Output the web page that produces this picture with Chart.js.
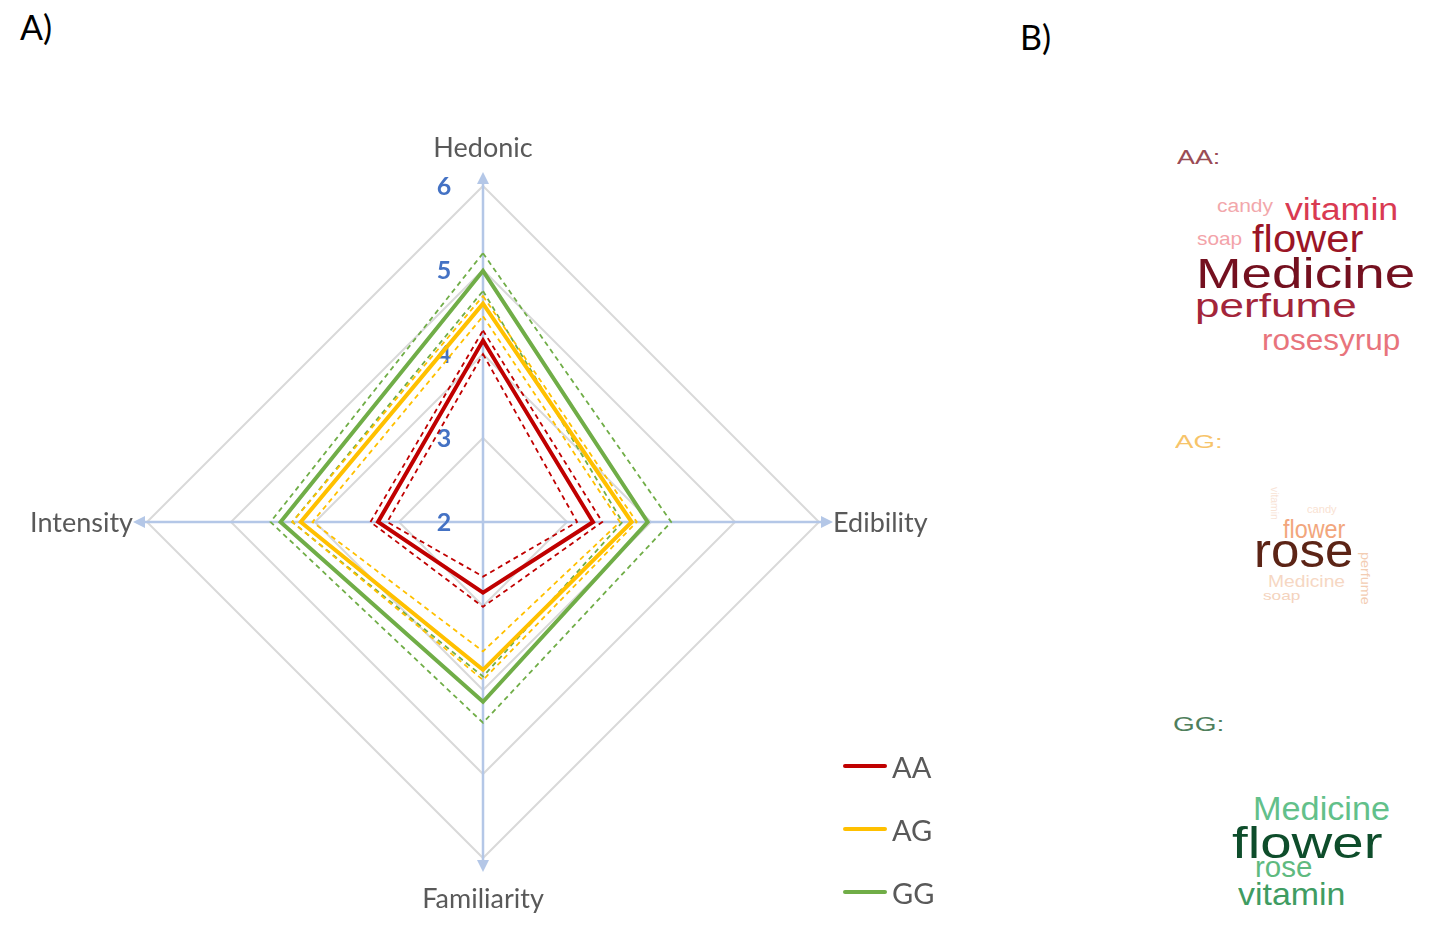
<!DOCTYPE html>
<html>
<head>
<meta charset="utf-8">
<script src="https://cdn.jsdelivr.net/npm/chart.js@4.4.1/dist/chart.umd.min.js"></script>
<style>
  html, body { margin: 0; padding: 0; background: #fff; }
  body { width: 1433px; height: 933px; position: relative; overflow: hidden; }
  #chartBox { position: absolute; left: 0; top: 110px; width: 966px; height: 822px; }
  .txt { position: absolute; white-space: nowrap; line-height: 1; transform-origin: 0 0; }
  .legend-row { position: absolute; left: 843px; height: 40px; display: flex; align-items: center; }
  .legend-row .swatch { width: 44px; height: 4px; border-radius: 2px; }
  .legend-row .name { font-family: Lato, sans-serif; font-size: 29px; color: #595959; margin-left: 5px; }
</style>
</head>
<body>
<div id="chartBox"><canvas id="radarChart"></canvas></div>
<div id="legend"></div>
<div id="texts"></div>

<script>
/* Radar data: mean score per axis, plus upper / lower bounds (dashed) */
const axisLabels = ['Hedonic', 'Edibility', 'Familiarity', 'Intensity'];
const tickValues = [2, 3, 4, 5, 6];
const groups = ['AA', 'AG', 'GG'];

const aaMean  = [4.16, 3.31, 2.84, 3.25];
const aaUpper = [4.28, 3.42, 3.01, 3.34];
const aaLower = [4.00, 3.12, 2.65, 3.14];

const agMean  = [4.60, 3.77, 3.76, 4.17];
const agUpper = [4.69, 3.83, 3.88, 4.27];
const agLower = [4.45, 3.63, 3.54, 4.03];

const ggMean  = [4.99, 3.96, 4.14, 4.41];
const ggUpper = [5.20, 4.24, 4.39, 4.53];
const ggLower = [4.75, 3.66, 3.84, 4.27];

/* Word clouds (panel B) */
const aaWords = ['candy', 'vitamin', 'soap', 'flower', 'Medicine', 'perfume', 'rosesyrup'];
const agWords = ['flower', 'rose', 'Medicine', 'soap', 'candy', 'perfume', 'vitamin'];
const ggWords = ['Medicine', 'flower', 'rose', 'vitamin'];

const groupColors = ['#c00000', '#ffc000', '#70ad47'];
const axisColor = '#b4c7e7';

const solidLine = function(label, data, color) {
    return { label: label, data: data, borderColor: color, borderWidth: 4, fill: false, pointRadius: 0 };
}
const dashedLine = function(label, data, color) {
    return { label: label, data: data, borderColor: color, borderWidth: 1.8, borderDash: [5, 4], fill: false, pointRadius: 0 };
}

const datasets = [
    solidLine('AA', aaMean, groupColors[0]),
    solidLine('AG', agMean, groupColors[1]),
    solidLine('GG', ggMean, groupColors[2]),
    dashedLine('AA upper', aaUpper, groupColors[0]),
    dashedLine('AA lower', aaLower, groupColors[0]),
    dashedLine('AG upper', agUpper, groupColors[1]),
    dashedLine('AG lower', agLower, groupColors[1]),
    dashedLine('GG upper', ggUpper, groupColors[2]),
    dashedLine('GG lower', ggLower, groupColors[2])
];

// where the axis names sit relative to the outer ring
const labelOffsets = [39, 14, 40, 14];
const labelAligns = ['center', 'left', 'center', 'right'];

const radarDecor = {
    id: 'radarDecor',
    beforeDatasetsDraw(chart) {
        const r = chart.scales.r;
        const ctx = chart.ctx;
        ctx.save();
        // axis lines with arrow heads
        ctx.strokeStyle = axisColor;
        ctx.fillStyle = axisColor;
        ctx.lineWidth = 2.5;
        axisLabels.forEach((_, i) => {
            const tip = r.getPointPosition(i, r.drawingArea + 14);
            const end = r.getPointPosition(i, r.drawingArea + 4);
            ctx.beginPath();
            ctx.moveTo(r.xCenter, r.yCenter);
            ctx.lineTo(end.x, end.y);
            ctx.stroke();
            const a = tip.angle, len = 12, half = 6;
            const bx = tip.x - Math.cos(a) * len, by = tip.y - Math.sin(a) * len;
            ctx.beginPath();
            ctx.moveTo(tip.x, tip.y);
            ctx.lineTo(bx - Math.sin(a) * half, by + Math.cos(a) * half);
            ctx.lineTo(bx + Math.sin(a) * half, by - Math.cos(a) * half);
            ctx.closePath();
            ctx.fill();
        });
        // tick numbers to the left of the Hedonic axis
        ctx.fillStyle = '#4472c4';
        ctx.font = 'bold 25px Lato';
        ctx.textAlign = 'center';
        ctx.textBaseline = 'middle';
        tickValues.forEach(v => {
            const p = r.getPointPosition(0, r.getDistanceFromCenterForValue(v));
            ctx.fillText(String(v), p.x - 39, p.y + 1);
        });
        ctx.restore();
    },
    afterDraw(chart) {
        const r = chart.scales.r;
        const ctx = chart.ctx;
        ctx.save();
        ctx.fillStyle = '#595959';
        ctx.font = '27px Lato';
        ctx.textBaseline = 'middle';
        axisLabels.forEach((label, i) => {
            const p = r.getPointPosition(i, r.drawingArea + labelOffsets[i]);
            ctx.textAlign = labelAligns[i];
            ctx.fillText(label, p.x, p.y + 1);
        });
        ctx.restore();
    }
};

new Chart(document.getElementById('radarChart'), {
    type: 'radar',
    data: { labels: axisLabels, datasets: datasets },
    options: {
        responsive: true,
        maintainAspectRatio: false,
        animation: false,
        layout: { padding: { left: 147, right: 147, top: 76, bottom: 74 } },
        elements: { line: { tension: 0 } },
        scales: {
            r: {
                min: 2,
                max: 6,
                ticks: { display: false, stepSize: 1 },
                grid: { color: '#d9d9d9', lineWidth: 2 },
                angleLines: { display: false },
                pointLabels: { display: false }
            }
        },
        plugins: {
            legend: { display: false },
            tooltip: { enabled: false }
        }
    },
    plugins: [radarDecor]
});

/* Legend */
const legendTops = [746, 809, 872];
const legendBox = document.getElementById('legend');
groups.forEach((g, i) => {
    const row = document.createElement('div');
    row.className = 'legend-row';
    row.style.top = legendTops[i] + 'px';
    row.innerHTML = '<div class="swatch"></div><div class="name"></div>';
    row.children[0].style.background = groupColors[i];
    row.children[1].innerText = g;
    legendBox.appendChild(row);
});

/* Free text: panel letters, cloud titles and cloud words */
// [left, baseline, font size, target width, colour, rotation]
const aaLayout = [
    [1217, 212, 18, 56, '#f2a7ab', 0],
    [1285, 220, 31, 113, '#d93a52', 0],
    [1197, 245, 19, 45, '#f3a3a9', 0],
    [1252, 252, 38, 111, '#9b1526', 0],
    [1196, 288, 43, 219, '#74101f', 0],
    [1195, 317, 34, 162, '#a3253a', 0],
    [1262, 350, 29, 138, '#e8747c', 0]
];
const agLayout = [
    [1283, 538, 26, 62, '#f2a67c', 0],
    [1254, 567, 49, 99, '#5c2416', 0],
    [1268, 587, 16, 77, '#f6d7c3', 0],
    [1263, 600, 13, 37, '#f4d3bd', 0],
    [1307, 513, 10, 30, '#f9e2d2', 0],
    [1372, 552, 13, 53, '#f3cdb3', 90],
    [1279, 487, 10, 33, '#f8e3d5', 90]
];
const ggLayout = [
    [1253, 820, 33, 137, '#62c08a', 0],
    [1232, 858, 44, 150, '#0e4d2b', 0],
    [1255, 877, 30, 57, '#5fba80', 0],
    [1238, 905, 32, 107, '#3f9c62', 0]
];

const textsBox = document.getElementById('texts');

const placeText = function(text, left, baseline, size, width, color, rot, family) {
    const el = document.createElement('div');
    el.className = 'txt';
    el.style.fontFamily = family;
    el.style.fontSize = size + 'px';
    el.style.color = color;
    el.style.left = left + 'px';
    el.style.top = '0px';
    el.innerHTML = '<span></span><span style="display:inline-block;width:0;height:0"></span>';
    el.children[0].innerText = text;
    textsBox.appendChild(el);
    const marker = el.children[1];
    const measured = el.children[0].offsetWidth;
    let transform = '';
    if (rot) {
        el.style.top = baseline + 'px';
        transform = 'rotate(' + rot + 'deg) ';
    } else {
        el.style.top = (baseline - marker.offsetTop) + 'px';
    }
    if (width) transform += 'scaleX(' + (width / measured) + ')';
    el.style.transform = transform;
}

const cloudFont = '"Liberation Sans", Arial, sans-serif';
aaWords.forEach((w, i) => placeText(w, ...aaLayout[i], cloudFont));
agWords.forEach((w, i) => placeText(w, ...agLayout[i], cloudFont));
ggWords.forEach((w, i) => placeText(w, ...ggLayout[i], cloudFont));

placeText('AA:', 1177, 164, 20, 43, '#9a4b55', 0, cloudFont);
placeText('AG:', 1175, 448, 19, 48, '#f7c46a', 0, cloudFont);
placeText('GG:', 1173, 731, 21, 52, '#4f7f5c', 0, cloudFont);

placeText('A)', 20, 40, 34, 0, '#000000', 0, 'Lato, sans-serif');
placeText('B)', 1020, 50, 34, 0, '#000000', 0, 'Lato, sans-serif');
</script>
</body>
</html>
